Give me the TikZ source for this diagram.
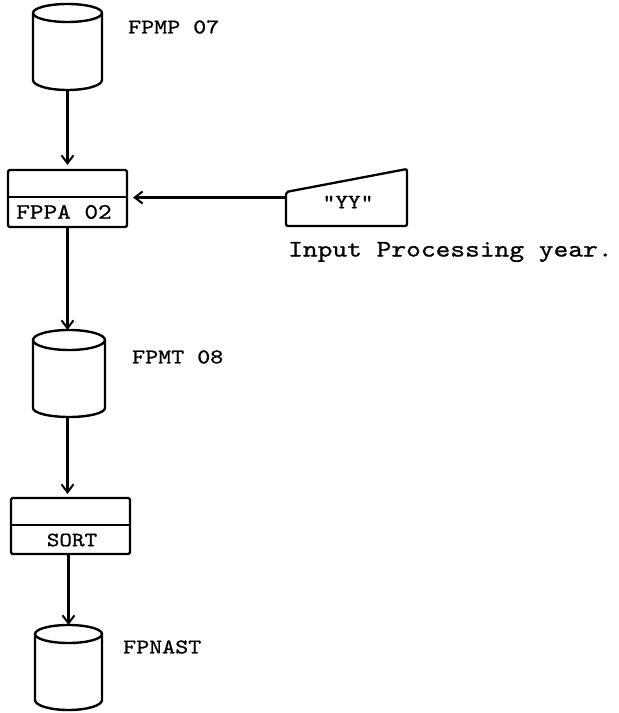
\documentclass[tikz,border=0pt]{standalone}
\usepackage{fontspec}
\newfontfamily\tw{lmmono10-regular.otf}[FakeStretch=1.18,FakeBold=0.9]
\usetikzlibrary{arrows.meta}
\tikzset{
  frame/.style={rectangle, draw=none, inner sep=0pt, outer sep=0pt},
  cyl/.style={line width=2.4pt, line join=round},
  procbox/.style={rectangle, draw, line width=2.2pt, inner sep=0pt, outer sep=0pt, rounded corners=1.5pt},
  arr/.style={line width=2.2pt, -{Straight Barb[length=8pt,width=12pt,line width=2pt]}},
  lbl/.style={font=\tw\fontsize{21}{24}\selectfont, inner sep=0pt, anchor=west},
  boxtxt/.style={font=\tw\fontsize{21}{24}\selectfont, inner sep=0pt},
  note/.style={font=\tw\fontsize{23.8}{28}\selectfont, inner sep=0pt, anchor=west}
}
\newcommand\cylout[4]{%
  \draw[cyl] ([yshift=-#3pt]#1.north west) arc[start angle=180,end angle=0,x radius=#2pt,y radius=#3pt]
    -- ([yshift=#4pt]#1.south east) arc[start angle=0,end angle=-180,x radius=#2pt,y radius=#4pt] -- cycle;
  \draw[cyl] ([yshift=-#3pt]#1.north west) arc[start angle=180,end angle=360,x radius=#2pt,y radius=#3pt];
}
\begin{document}
\begin{tikzpicture}[x=1pt,y=1pt]
\fill[white] (0,0) rectangle (619,713);
\useasboundingbox (0,0) rectangle (619,713);

% cylinder FPMP 07
\node[frame, minimum width=69pt, minimum height=86pt] (c1) at (67.5,666) {};
\cylout{c1}{34.5}{9}{10}
\node[lbl] (c1l) at (128,686) {FPMP 07};

% process FPPA 02
\node[procbox, minimum width=119pt, minimum height=57pt] (p1) at (67.5,514.5) {};
\draw[line width=2.2pt] (p1.west |- 0,516) -- (p1.east |- 0,516);
\node[boxtxt, font=\tw\fontsize{22}{24}\selectfont] (p1t) at (64,501) {FPPA 02};

% manual input "YY"
\node[frame, minimum width=121pt, minimum height=57pt] (yy) at (346.5,515.5) {};
\draw[line width=2.3pt, rounded corners=2pt] (yy.south west) -- ([yshift=-23pt]yy.north west) -- (yy.north east) -- (yy.south east) -- cycle;
\node[boxtxt, font=\tw\fontsize{20.5}{24}\selectfont] (yyt) at (348,511) {"YY"};
\node[note] (note) at (288,461) {Input Processing year.};

% cylinder FPMT 08
\node[frame, minimum width=72pt, minimum height=87pt] (c2) at (69,339.5) {};
\cylout{c2}{36}{10}{9}
\node[lbl] (c2l) at (132,356) {FPMT 08};

% process SORT
\node[procbox, minimum width=119pt, minimum height=56pt] (p2) at (70.5,187) {};
\draw[line width=2.2pt] (p2.west |- 0,188) -- (p2.east |- 0,188);
\node[boxtxt, font=\tw\fontsize{20.3}{24}\selectfont] (p2t) at (72,173) {SORT};

% cylinder FPNAST
\node[frame, minimum width=67pt, minimum height=85pt] (c3) at (68.5,45.5) {};
\cylout{c3}{33.5}{9}{10}
\node[lbl] (c3l) at (123,66) {FPNAST};

% connectors
\draw[arr, shorten >=5pt] (c1.south) -- (c1.south |- p1.north);
\draw[arr] (p1.south) -- (p1.south |- c2.north);
\draw[arr, shorten >=4pt] (p1.south |- c2.south) -- (p1.south |- p2.north);
\draw[arr] (c3.north |- p2.south) -- (c3.north);
\draw[arr, shorten >=6pt] (yy.west) -- (yy.west -| p1.east);
\end{tikzpicture}
\end{document}
